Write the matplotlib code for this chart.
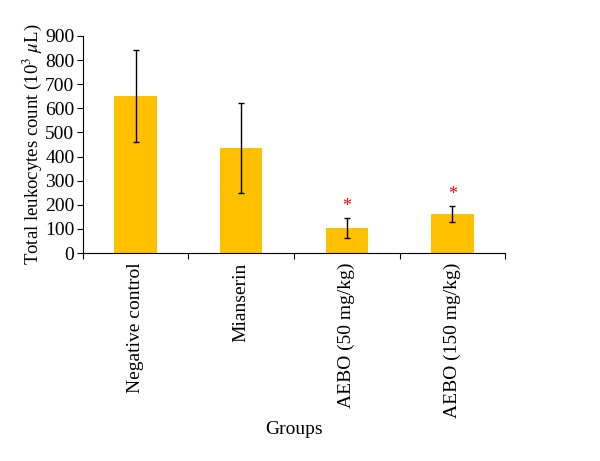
import numpy as np
import matplotlib
matplotlib.use("Agg")
import matplotlib.pyplot as plt

groups = ["Negative control", "Mianserin", "AEBO (50 mg/kg)", "AEBO (150 mg/kg)"]
means = [650, 435, 105, 163]
errors = [190, 188, 42, 34]
significant = [False, False, True, True]

plt.rcParams['font.family'] = ['Liberation Serif', 'DejaVu Serif']
plt.rcParams['mathtext.fontset'] = 'stix'

fig = plt.figure(figsize=(6, 4.61), dpi=100)
ax = fig.add_axes([0.138, 0.451, 0.704, 0.471])

x = np.arange(len(groups))
ax.bar(x, means, width=0.4, color='#FFC000', zorder=2)
ax.errorbar(x, means, yerr=errors, fmt='none', ecolor='black', elinewidth=1,
            capsize=2.5, capthick=1, zorder=3)

# significance markers
for xi, m, e, s in zip(x, means, errors, significant):
    if s:
        ax.text(xi, m + e + 10, '*', color='red', ha='center', va='bottom', fontsize=13)

ax.set_xlim(-0.5, len(groups) - 0.5)
ax.set_ylim(0, 900)
ax.set_yticks(range(0, 901, 100))

ax.set_xticks(np.arange(-0.5, len(groups), 1.0))
ax.set_xticklabels([])
ax.set_xticks(x, minor=True)
ax.set_xticklabels(groups, minor=True, rotation=90, fontsize=14)
ax.tick_params(axis='x', which='major', direction='out', length=4, width=0.8)
ax.tick_params(axis='x', which='minor', length=0, pad=7)
ax.tick_params(axis='y', direction='out', length=4, width=0.8, labelsize=14, pad=2)

for sp in ['top', 'right']:
    ax.spines[sp].set_visible(False)
ax.spines['left'].set_linewidth(0.8)
ax.spines['bottom'].set_linewidth(0.8)

ax.set_ylabel(r'Total leukocytes count (10$^3$ $\mu$L)', fontsize=13.5, labelpad=1)
ax.set_xlabel('Groups', fontsize=14, labelpad=2)

fig.savefig('out.png', dpi=100)
